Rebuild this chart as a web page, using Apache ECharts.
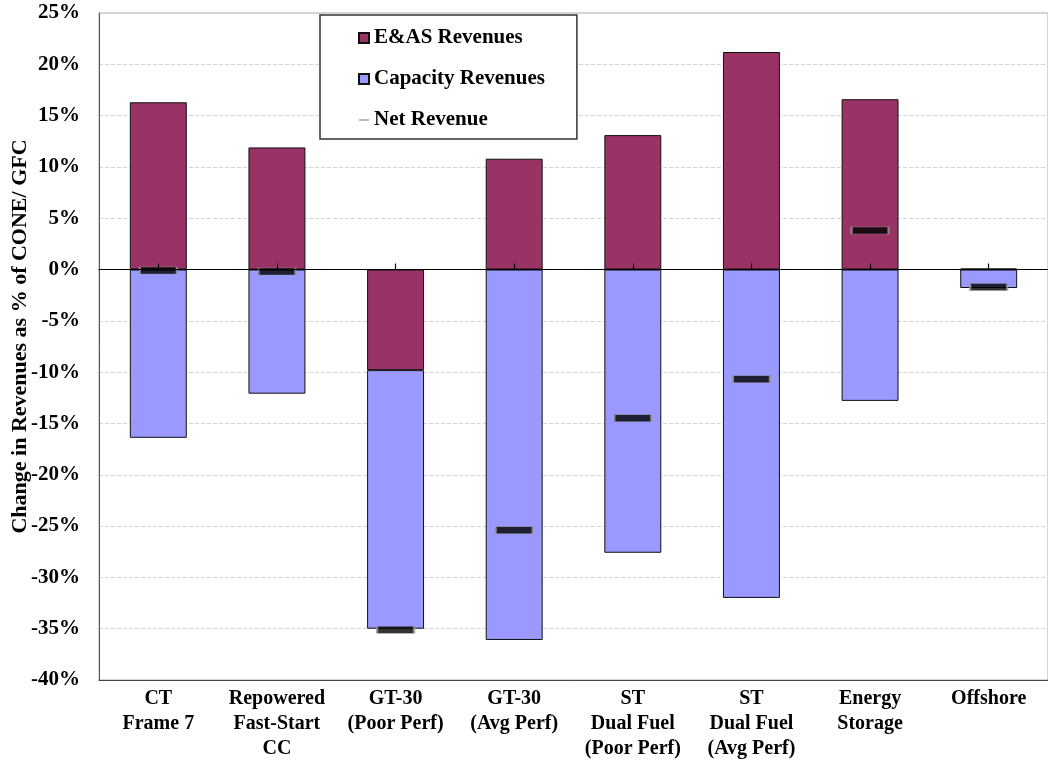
<!DOCTYPE html>
<html>
<head>
<meta charset="utf-8">
<script src="https://cdn.jsdelivr.net/npm/echarts@6/dist/echarts.min.js"></script>
<style>
html,body{margin:0;padding:0;background:#fff;}
#chart{width:1048px;height:765px;}
</style>
</head>
<body>
<div id="chart"></div>
<script>
var categories = ['CT\nFrame 7', 'Repowered\nFast-Start\nCC', 'GT-30\n(Poor Perf)', 'GT-30\n(Avg Perf)', 'ST\nDual Fuel\n(Poor Perf)', 'ST\nDual Fuel\n(Avg Perf)', 'Energy\nStorage', 'Offshore'];
var easRevenues = [16.3, 11.9, -9.8, 10.8, 13.1, 21.2, 16.6, 0.1];
var capacityRevenues = [-16.4, -12.1, -25.2, -36.1, -27.6, -32.0, -12.8, -1.8];
var netRevenue = [-0.1, -0.2, -35.1, -25.4, -14.5, -10.7, 3.8, -1.7];
var yTicks = {min: -40, max: 25, interval: 5};

var FONT = "'Liberation Serif', 'Times New Roman', serif";
var chart = echarts.init(document.getElementById('chart'));
chart.setOption({
  backgroundColor: '#ffffff',
  animation: false,
  textStyle: {fontFamily: FONT},
  grid: {left: 99, right: 0, top: 13, bottom: 85, show: true, borderColor: '#aaaaaa', borderWidth: 1, containLabel: false, outerBoundsMode: 'none'},
  legend: {
    orient: 'vertical',
    left: 320, top: 15,
    padding: [12, 32, 8, 38],
    itemGap: 19,
    itemWidth: 10, itemHeight: 10,
    borderColor: '#333333', borderWidth: 1.5,
    backgroundColor: '#ffffff',
    textStyle: {fontFamily: FONT, fontWeight: 'bold', fontSize: 21, color: '#000', lineHeight: 22},
    data: [
      {name: 'E&AS Revenues', icon: 'rect'},
      {name: 'Capacity Revenues', icon: 'rect'},
      {name: 'Net Revenue', icon: 'path://M0,0 L12,0 L12,2 L0,2 Z', itemStyle: {color: '#999999', borderWidth: 0}}
    ]
  },
  xAxis: [
    {
      type: 'category', data: categories, position: 'bottom',
      axisLine: {onZero: false, lineStyle: {color: '#444', width: 1}},
      axisTick: {show: false},
      axisLabel: {interval: 0, margin: 6, fontFamily: FONT, fontWeight: 'bold', fontSize: 20, lineHeight: 25, color: '#000'},
      splitLine: {show: false}
    },
    {
      type: 'category', data: categories, position: 'top', z: 10,
      axisLine: {onZero: true, lineStyle: {color: '#000', width: 1.2}},
      axisTick: {show: true, alignWithLabel: true, length: 6, lineStyle: {color: '#000', width: 1.2}},
      axisLabel: {show: false},
      splitLine: {show: false}
    }
  ],
  yAxis: {
    type: 'value', min: yTicks.min, max: yTicks.max, interval: yTicks.interval,
    name: 'Change in Revenues as % of CONE/ GFC',
    nameLocation: 'middle', nameGap: 68, nameRotate: 90, nameMoveOverlap: false,
    nameTextStyle: {fontFamily: FONT, fontWeight: 'bold', fontSize: 22, color: '#000', padding: [0, 0, 0, 20]},
    axisLine: {show: true, lineStyle: {color: '#555'}},
    axisTick: {show: false},
    axisLabel: {margin: 19, fontFamily: FONT, fontWeight: 'bold', fontSize: 21, color: '#000', formatter: function (v) { return v + '%'; }},
    splitLine: {show: true, lineStyle: {color: '#d4d4d4', type: 'dashed', width: 1}}
  },
  series: [
    {
      name: 'E&AS Revenues', type: 'bar', stack: 'rev', xAxisIndex: 0, data: easRevenues,
      barWidth: '48%',
      itemStyle: {color: '#993366', borderColor: '#111', borderWidth: 1}
    },
    {
      name: 'Capacity Revenues', type: 'bar', stack: 'rev', xAxisIndex: 0, data: capacityRevenues,
      barWidth: '48%',
      itemStyle: {color: '#9999ff', borderColor: '#111', borderWidth: 1}
    },
    {
      name: 'Net Revenue', type: 'scatter', xAxisIndex: 0, data: netRevenue, z: 5,
      symbol: 'rect', symbolSize: [37, 7],
      itemStyle: {color: '#000', borderColor: '#999', borderWidth: 1}
    }
  ]
});
</script>
</body>
</html>
